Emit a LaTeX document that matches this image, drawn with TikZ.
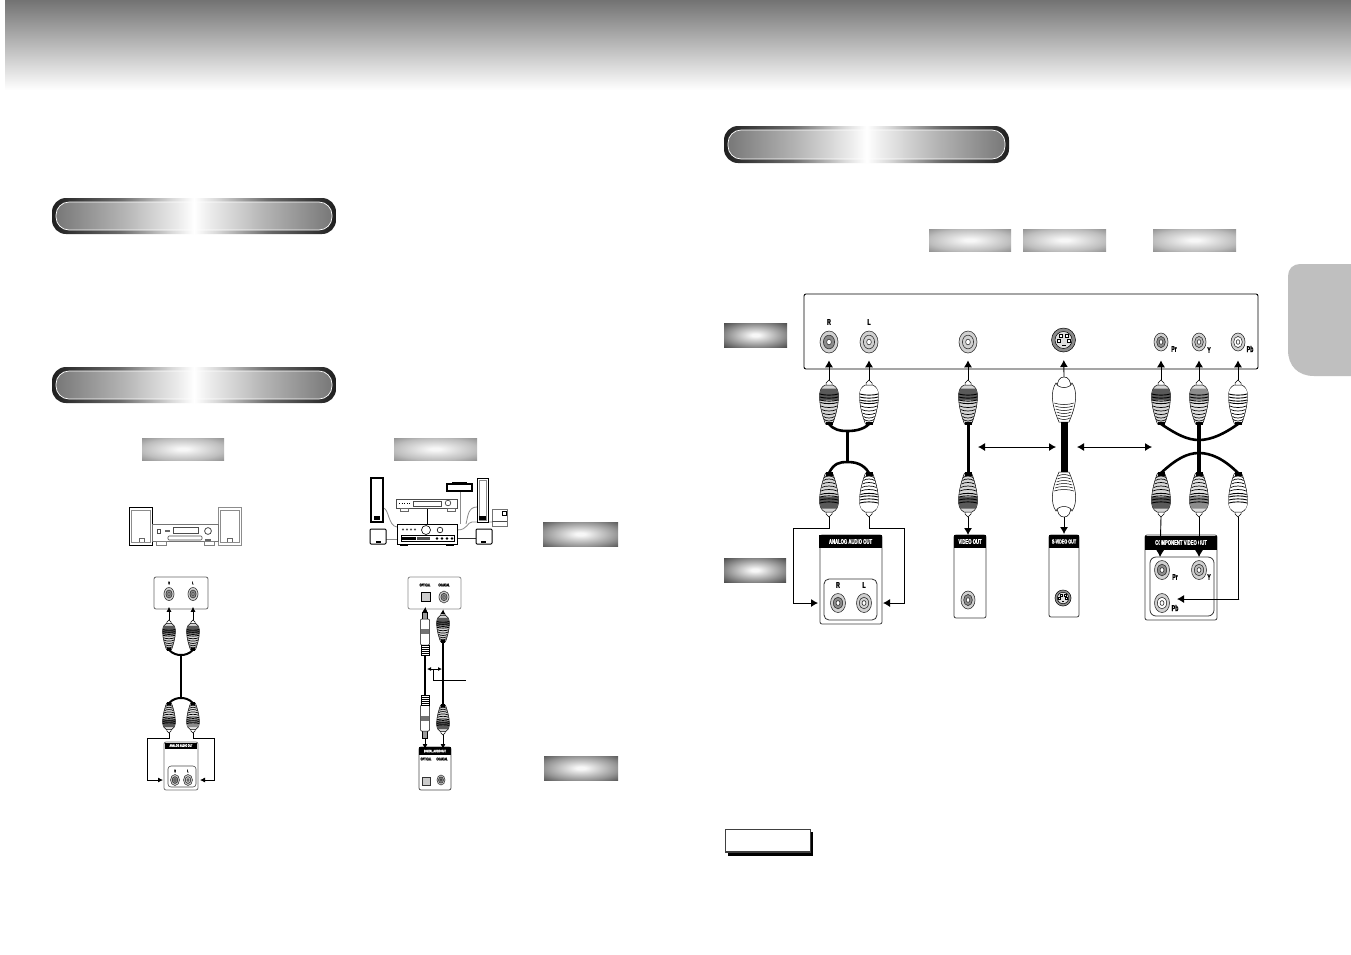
\documentclass[tikz,border=0pt]{standalone}
\usepackage{fontspec}
\usepackage{tikz}
\usetikzlibrary{arrows.meta,shapes.geometric}
\newfontfamily\panelfont[FakeStretch=0.62,BoldFeatures={FakeStretch=0.62,FakeBold=1.2}]{Liberation Sans}
\definecolor{tabgray}{gray}{0.75}
\definecolor{pilldark}{gray}{0.12}
\definecolor{pillmid}{gray}{0.42}
\definecolor{pillpale}{gray}{0.85}
\definecolor{pillin}{gray}{0.47}
\definecolor{pillinmid}{gray}{0.70}
\definecolor{pillinpale}{gray}{0.92}
\definecolor{plugdark}{gray}{0.35}
\definecolor{plugmid}{gray}{0.55}
\definecolor{jackdark}{gray}{0.55}
\definecolor{jackpale}{gray}{0.82}
\definecolor{palecentre}{gray}{0.97}
\definecolor{paleedge}{gray}{0.74}
\definecolor{palecorner}{gray}{0.58}
\definecolor{midedge}{gray}{0.58}
\definecolor{midcorner}{gray}{0.36}
\definecolor{darkedge}{gray}{0.52}
\definecolor{darkcorner}{gray}{0.30}
\pgfdeclarehorizontalshading{pillouter}{100bp}{color(0bp)=(pilldark); color(25bp)=(pilldark); color(37bp)=(pillmid); color(46bp)=(pillpale); color(50bp)=(white); color(54bp)=(pillpale); color(63bp)=(pillmid); color(75bp)=(pilldark); color(100bp)=(pilldark)}
\pgfdeclarehorizontalshading{pillinner}{100bp}{color(0bp)=(pillin); color(25bp)=(pillin); color(37bp)=(pillinmid); color(47bp)=(pillinpale); color(50bp)=(white); color(53bp)=(pillinpale); color(63bp)=(pillinmid); color(75bp)=(pillin); color(100bp)=(pillin)}
\pgfdeclareradialshading{glowpale}{\pgfpoint{0bp}{0bp}}{color(0bp)=(palecentre); color(3bp)=(palecentre); color(25bp)=(paleedge); color(35.4bp)=(palecorner); color(50bp)=(palecorner)}
\pgfdeclareradialshading{glowmid}{\pgfpoint{0bp}{0bp}}{color(0bp)=(palecentre); color(3bp)=(palecentre); color(25bp)=(midedge); color(35.4bp)=(midcorner); color(50bp)=(midcorner)}
\pgfdeclareradialshading{glowdark}{\pgfpoint{0bp}{0bp}}{color(0bp)=(palecentre); color(3bp)=(palecentre); color(25bp)=(darkedge); color(35.4bp)=(darkcorner); color(50bp)=(darkcorner)}
\tikzset{
  arrowline/.style={line width=0.9pt,-{Latex[length=7pt,width=8pt]}},
  smallarrow/.style={line width=0.8pt,-{Latex[length=5pt,width=5pt]}},
  cable/.style={line width=2.6pt},
  rimline/.style={line width=0.5pt},
  paneledge/.style={draw=black!75,line width=0.8pt,fill=white,rounded corners=2pt},
  headbar/.style={fill=black,text=white,inner sep=0pt,font=\panelfont\bfseries\fontsize{6.8}{7}\selectfont},
  tag/.style={inner sep=0pt,font=\panelfont\bfseries\fontsize{8.5}{9}\selectfont},
  tinytag/.style={inner sep=0pt,font=\panelfont\bfseries\fontsize{4}{5}\selectfont},
  jackbody/.style={ellipse,draw=black!80,line width=0.6pt,inner sep=0pt,fill=jackpale},
  rcaplug/.pic={
    \coordinate (-tip) at (0,0);
    \coordinate (-tail) at (0,44);
    \draw[rimline,fill=white] (-3,9) -- (-3,3) -- (0,0) -- (3,3) -- (3,9) -- cycle;
    \draw[rimline,fill=#1!25!white] (-4,5) .. controls (-8,7) and (-9.5,11) .. (-9.5,16) .. controls (-9.5,26) and (-6,38) .. (-3.5,44) -- (3.5,44) .. controls (6,38) and (9.5,26) .. (9.5,16) .. controls (9.5,11) and (8,7) .. (4,5) -- cycle;
    \fill[#1] (-8,8.5) -- (8,8.5) -- (9.3,14) -- (9.3,20) -- (-9.3,20) -- (-9.3,14) -- cycle;
    \foreach \ry/\rw in {14/9.2,17/9.2,20/9,22.5/8.6}
      \draw[line width=0.9pt] (-\rw,\ry) .. controls (-\rw/2,\ry+1.5) and (\rw/2,\ry+1.5) .. (\rw,\ry);
    \foreach \ry/\rw in {26/8.2,29.5/7.4,33/6.5,36.5/5.6,39.5/4.8}
      \draw[line width=0.7pt] (-\rw,\ry) .. controls (-\rw/2,\ry+2) and (\rw/2,\ry+2) .. (\rw,\ry);
    \fill[black] (-3.5,41.5) rectangle (3.5,45);
  },
  svplug/.pic={
    \coordinate (-tip) at (0,0);
    \coordinate (-tail) at (0,45);
    \draw[rimline,fill=white] (-7,12) .. controls (-7,3) and (-4,0) .. (0,0) .. controls (4,0) and (7,3) .. (7,12) -- cycle;
    \draw[rimline,fill=white] (-8,6) .. controls (-11,10) and (-12,16) .. (-11.5,22) .. controls (-11,30) and (-8,38) .. (-5,45) -- (5,45) .. controls (8,38) and (11,30) .. (11.5,22) .. controls (12,16) and (11,10) .. (8,6) .. controls (6,12) and (-6,12) .. (-8,6) -- cycle;
    \foreach \ry/\rw in {26/9.8,29/9,32/8.2,35/7.4,38/6.6,41/5.8}
      \draw[rimline] (-\rw,\ry) .. controls (-\rw/2,\ry+2) and (\rw/2,\ry+2) .. (\rw,\ry);
  },
  optoplug/.pic={
    \coordinate (-tip) at (0,0);
    \coordinate (-tail) at (0,43);
    \draw[rimline,fill=black!40] (-2.5,8) rectangle (2.5,0);
    \draw[rimline,fill=white,rounded corners=1pt] (-4.5,7) rectangle (4.5,33);
    \fill[black!55] (-4.3,17) rectangle (4.3,22);
    \draw[rimline,fill=white] (-4,33) rectangle (4,43);
    \foreach \ry in {35,37,39,41}
      \draw[line width=0.9pt] (-3.5,\ry) -- (3.5,\ry);
  },
  svjack/.pic={
    \coordinate (-c) at (0,0);
    \draw[rimline,fill=black!45] (0,0) circle (12);
    \draw[rimline,fill=black!12] (0,0) circle (8.5);
    \foreach \px/\py in {-3/-4,3/-4,-5/1,5/1}
      \draw[line width=0.8pt,fill=white] (\px-1.5,\py-1.3) rectangle (\px+1.5,\py+1.3);
    \fill[black] (-2,4.5) rectangle (2,6);
  }
}
\newcommand{\jackat}[5]{%
  \node[jackbody,minimum width=#3pt,minimum height=#4pt] (#1) at (#2) {};
  \node[jackbody,minimum width=0.62*#3pt,minimum height=0.62*#4pt,fill=#5] (#1in) at (#1) {};
  \node[jackbody,minimum width=0.26*#3pt,minimum height=0.26*#4pt,fill=white] (#1hole) at (#1) {};
}
\newcommand{\pillbar}[4]{%
  \path[shading=pillouter,rounded corners=14pt] (#1,#2) rectangle (#3,#4);
  \path[shading=pillinner,rounded corners=13pt] (#1+4,#2+4) rectangle (#3-4,#4-4);
  \draw[white,line width=0.7pt,rounded corners=13pt] (#1+4,#2+4) rectangle (#3-4,#4-4);
}
\newcommand{\glowbox}[5]{\path[shading=#5] (#1,#2) rectangle (#3,#4);}
\begin{document}
\begin{tikzpicture}[x=1pt,y=-1pt]
  \useasboundingbox (0,0) rectangle (1351,954);
  \fill[white] (0,0) rectangle (1351,954);
  % page band and side tab
  \path[top color=black!55,bottom color=white] (5,0) rectangle (1351,90);
  \fill[tabgray] (1351,264) -- (1300,264) .. controls (1293,264) and (1288,269) .. (1288,276) -- (1288,350) .. controls (1288,366) and (1298,376) .. (1314,376) -- (1351,376) -- cycle;
  % headings
  \pillbar{52}{198}{336}{234}
  \pillbar{52}{367}{336}{403}
  \pillbar{724}{126}{1009}{163}
  % grey labels
  \glowbox{929}{229}{1011}{251}{glowpale}
  \glowbox{1023}{229}{1106}{251}{glowpale}
  \glowbox{1153}{229}{1236}{251}{glowpale}
  \glowbox{142}{438}{224}{460}{glowpale}
  \glowbox{394}{438}{477}{460}{glowpale}
  \glowbox{543}{522}{618}{546}{glowmid}
  \glowbox{544}{756}{618}{780}{glowmid}
  \glowbox{724}{323}{787}{347}{glowdark}
  \glowbox{724}{558}{786}{582}{glowdark}
  % note box
  \fill[black] (728,832) rectangle (813,856);
  \draw[black!75,line width=1.2pt,fill=white] (725.5,829.5) rectangle (810.5,852);

  % stereo set
  \draw[line width=1pt,fill=white] (129,507) rectangle (152,545);
  \draw[black!45,line width=0.8pt,fill=white] (131,510) rectangle (150,542);
  \draw[black!60,line width=0.6pt] (139,542) -- (139,538) -- (144,538) -- (144,542);
  \draw[black!45,line width=1pt,fill=white] (218,507) rectangle (241,545);
  \draw[black!45,line width=0.6pt] (220,510) rectangle (239,542);
  \draw[black!60,line width=0.6pt] (227,542) -- (227,538) -- (232,538) -- (232,542);
  \draw[black!55,line width=0.7pt,fill=white] (152,524) rectangle (218,541);
  \draw[black!70,line width=0.6pt] (173,527) rectangle (198,533);
  \draw[black!80,line width=0.7pt] (208,531) circle (3.4);
  \draw[black!70,line width=0.6pt,rounded corners=1pt] (168,536) rectangle (202,540);
  \draw[black!70,line width=0.5pt] (157,529) rectangle (160,533);
  \fill[black!60] (165,530) rectangle (170,532);
  \fill[black!60] (205,539) rectangle (211,540.5);
  \draw[black!50,line width=0.5pt] (156,541) rectangle (166,545);
  \draw[black!50,line width=0.5pt] (204,541) rectangle (214,545);

  % stereo connection
  \draw[paneledge,draw=black!60] (154,577) rectangle (208,609);
  \node[tinytag] (tagSmallR) at (169,583) {R};
  \node[tinytag] (tagSmallL) at (193,583) {L};
  \jackat{jackSmallR}{169,594}{10}{13}{jackdark}
  \jackat{jackSmallL}{193,594}{10}{13}{jackdark}
  \pic[scale=0.68] (plugUpSmallR) at (169,620) {rcaplug=plugdark};
  \pic[scale=0.68] (plugUpSmallL) at (193,620) {rcaplug=plugdark};
  \pic[scale=0.68,yscale=-1] (plugDownSmallR) at (169,733) {rcaplug=plugdark};
  \pic[scale=0.68,yscale=-1] (plugDownSmallL) at (193,733) {rcaplug=plugmid};
  \coordinate (jointUpSmall) at (181,655);
  \coordinate (jointDownSmall) at (181,698);
  \draw[line width=2pt] (plugUpSmallR-tail) .. controls (173,654) and (177,655) .. (jointUpSmall) .. controls (185,655) and (189,654) .. (plugUpSmallL-tail);
  \draw[line width=2pt] (plugDownSmallR-tail) .. controls (173,699) and (177,698) .. (jointDownSmall) .. controls (185,698) and (189,699) .. (plugDownSmallL-tail);
  \draw[line width=2pt] (jointUpSmall) -- (jointDownSmall);
  \draw[smallarrow,shorten >=6pt] (plugUpSmallR-tip) -- (jackSmallR);
  \draw[smallarrow,shorten >=6pt] (plugUpSmallL-tip) -- (jackSmallL);
  \draw[paneledge,draw=black!55] (164,742) rectangle (198,790);
  \node[headbar,minimum width=32pt,minimum height=6pt,font=\panelfont\bfseries\fontsize{3.6}{4}\selectfont] (headSmallAudio) at (181,745.5) {ANALOG AUDIO OUT};
  \draw[black!70,line width=0.6pt,rounded corners=3pt] (168,766) rectangle (196,787);
  \node[tinytag] (tagSmallOutR) at (175,771) {R};
  \node[tinytag] (tagSmallOutL) at (188,771) {L};
  \jackat{jackSmallOutR}{175,780}{9}{11}{jackdark}
  \jackat{jackSmallOutL}{188,780}{9}{11}{jackpale}
  \coordinate (bendSmallR) at (147,738);
  \coordinate (bendSmallL) at (214,738);
  \coordinate (inSmallR) at (163,780);
  \coordinate (inSmallL) at (200,780);
  \draw[smallarrow] (plugDownSmallR-tip) |- (bendSmallR) |- (inSmallR);
  \draw[smallarrow] (plugDownSmallL-tip) |- (bendSmallL) |- (inSmallL);

  % home theatre set
  \draw[black!45,line width=0.8pt] (383,508) .. controls (389,508) and (388,526) .. (397,527);
  \draw[black!45,line width=0.8pt] (477,507) .. controls (468,507) and (468,516) .. (466,524);
  \draw[black!45,line width=0.8pt] (460,491) -- (460,524);
  \draw[black!45,line width=0.8pt] (492,522) -- (472,522) .. controls (467,522) and (468,530) .. (457,530);
  \draw[black!45,line width=0.8pt] (386,539) -- (397,539);
  \draw[black!80,line width=0.7pt] (457,538) -- (476,538);
  \draw[line width=0.8pt] (427,508) -- (427,524);
  \draw[line width=1.3pt,fill=white] (371,478) rectangle (383,522);
  \fill[black] (374,516) rectangle (380,520);
  \draw[line width=1pt,fill=white] (477,478) rectangle (488,522);
  \draw[black!45,line width=0.5pt] (479,480) rectangle (486,520);
  \fill[black] (479,516) rectangle (486,520);
  \draw[line width=1.4pt,fill=white] (447,484) rectangle (472,491);
  \fill[black] (452,482) rectangle (467,484);
  \fill[black] (455,489.5) rectangle (460,491);
  \draw[black!70,line width=0.7pt,fill=white] (396,499) rectangle (457,508);
  \draw[black!70,line width=0.6pt] (413,501) rectangle (441,506);
  \draw[black!80,line width=0.6pt] (448,503) circle (2.8);
  \draw[line width=0.6pt,dotted] (399,503.5) -- (411,503.5);
  \draw[black!60,line width=0.5pt] (400,508) rectangle (408,511);
  \draw[black!60,line width=0.5pt] (447,508) rectangle (455,511);
  \draw[line width=0.9pt,fill=white] (397,524) rectangle (457,544);
  \draw[line width=0.6pt] (426,530) circle (4.5);
  \draw[line width=0.6pt] (440,530) circle (2.8);
  \draw[line width=0.6pt] (401,535) rectangle (454,541.5);
  \fill[black] (402,537) rectangle (416,540);
  \fill[black!70] (417,536.5) rectangle (430,540);
  \foreach \dotx in {437,442,447,452}
    \fill[black] (\dotx,538.5) circle (1.3);
  \foreach \dotx in {403,407,411,415}
    \fill[black!70] (\dotx,529.5) circle (1.2);
  \fill[black] (400,544) rectangle (408,546);
  \fill[black] (446,544) rectangle (454,546);
  \draw[line width=1pt,fill=white,rounded corners=1pt] (370,529) rectangle (386,544);
  \fill[black] (376,541) rectangle (381,543);
  \draw[line width=1pt,fill=white,rounded corners=1pt] (476,529) rectangle (492,544);
  \fill[black] (481,541) rectangle (486,543);
  \draw[black!55,line width=0.7pt,fill=white] (492,509) rectangle (507,526);
  \draw[black!70,line width=0.5pt] (492,521) -- (507,521);
  \draw[line width=0.6pt] (502,511) rectangle (506,515);

  % digital connection
  \draw[paneledge,draw=black!45] (408,577) rectangle (461,609);
  \node[tinytag] (tagOptical) at (425,585) {OPTICAL};
  \node[tinytag] (tagCoaxial) at (444,585) {COAXIAL};
  \node[draw=black,line width=0.8pt,fill=black!20,minimum size=9pt,inner sep=0pt] (jackOptical) at (426,597) {};
  \jackat{jackCoaxial}{444,597}{10}{12}{jackdark}
  \pic (plugUpOptical) at (425,612) {optoplug};
  \pic[scale=0.68] (plugUpCoaxial) at (443,612) {rcaplug=plugdark};
  \pic[yscale=-1] (plugDownOptical) at (425,738) {optoplug};
  \pic[scale=0.68,yscale=-1] (plugDownCoaxial) at (443,735) {rcaplug=plugdark};
  \draw[line width=2pt] (plugUpOptical-tail) -- (plugDownOptical-tail);
  \draw[line width=2pt] (plugUpCoaxial-tail) -- (plugDownCoaxial-tail);
  \draw[smallarrow,shorten >=5pt] (plugUpOptical-tip) -- (jackOptical);
  \draw[smallarrow,shorten >=6pt] (plugUpCoaxial-tip) -- (jackCoaxial);
  \draw[paneledge,draw=black!70] (419,747) rectangle (451,790);
  \node[headbar,minimum width=32pt,minimum height=8pt,font=\panelfont\bfseries\fontsize{3.6}{4}\selectfont] (headDigital) at (435,751) {DIGITAL AUDIO OUT};
  \node[tinytag] (tagOutOptical) at (426,759) {OPTICAL};
  \node[tinytag] (tagOutCoaxial) at (442,759) {COAXIAL};
  \node[draw=black!80,line width=0.7pt,fill=black!20,minimum size=8pt,inner sep=0pt] (jackOutOptical) at (426,781) {};
  \jackat{jackOutCoaxial}{441,780}{8}{10}{jackdark}
  \coordinate (inOptical) at (425,749);
  \coordinate (inCoaxial) at (443,749);
  \draw[smallarrow] (plugDownOptical-tip) -- (inOptical);
  \draw[smallarrow] (plugDownCoaxial-tip) -- (inCoaxial);
  \coordinate (cableOpticalSide) at (427,669);
  \coordinate (cableCoaxialSide) at (442,669);
  \coordinate (tickTop) at (433,669);
  \coordinate (tickEnd) at (466,680);
  \draw[smallarrow,{Latex[length=4pt,width=4pt]}-{Latex[length=4pt,width=4pt]}] (cableOpticalSide) -- (cableCoaxialSide);
  \draw[line width=0.8pt] (tickTop) |- (tickEnd);

  % back panel
  \draw[line width=0.9pt,rounded corners=2pt] (804,294) rectangle (1258,369);
  \draw[white,line width=0.9pt] (806,294) -- (1256,294);
  \draw[black!35,line width=0.9pt] (806,294) -- (1256,294);
  \node[tag] (tagR) at (829,322) {R};
  \node[tag] (tagL) at (869,322) {L};
  \jackat{jackR}{829,342}{18}{22}{jackdark}
  \jackat{jackL}{869,342}{18}{22}{jackpale}
  \jackat{jackVideo}{968,342}{18}{22}{jackpale}
  \pic (jackS) at (1063.5,340) {svjack};
  \jackat{jackPr}{1161,342}{14}{18}{jackdark}
  \jackat{jackY}{1199,342}{14}{18}{jackdark!60}
  \jackat{jackPb}{1238,342}{14}{18}{white}
  \node[tag] (tagPr) at (1174,349) {Pr};
  \node[tag] (tagY) at (1209,350) {Y};
  \node[tag] (tagPb) at (1250,349) {Pb};

  % upper plugs
  \pic (plugUpR) at (829,380) {rcaplug=plugdark};
  \pic (plugUpL) at (869,380) {rcaplug=white};
  \pic (plugUpVideo) at (968,380) {rcaplug=plugdark};
  \pic (plugUpS) at (1064,377) {svplug};
  \pic (plugUpPr) at (1161,380) {rcaplug=plugdark};
  \pic (plugUpY) at (1199,380) {rcaplug=plugmid};
  \pic (plugUpPb) at (1238,380) {rcaplug=white};
  % lower plugs
  \pic[yscale=-1] (plugDownR) at (829,517) {rcaplug=plugdark};
  \pic[yscale=-1] (plugDownL) at (869,517) {rcaplug=white};
  \pic[yscale=-1] (plugDownVideo) at (968,517) {rcaplug=plugdark};
  \pic[yscale=-1] (plugDownS) at (1064,517) {svplug};
  \pic[yscale=-1] (plugDownPr) at (1161,517) {rcaplug=plugdark};
  \pic[yscale=-1] (plugDownY) at (1199,517) {rcaplug=plugmid};
  \pic[yscale=-1] (plugDownPb) at (1238,517) {rcaplug=white};

  % cables
  \coordinate (jointUp) at (847,431);
  \coordinate (jointDown) at (847,462);
  \draw[cable] (plugUpR-tail) .. controls (834,430) and (840,431) .. (jointUp) .. controls (854,431) and (863,430) .. (plugUpL-tail);
  \draw[cable] (plugDownR-tail) .. controls (834,463) and (840,462) .. (jointDown) .. controls (854,462) and (863,463) .. (plugDownL-tail);
  \draw[line width=3pt] (jointUp) -- (jointDown);
  \draw[line width=3pt] (plugUpVideo-tail) -- (plugDownVideo-tail);
  \draw[line width=7pt] (plugUpS-tail) -- (plugDownS-tail);
  \coordinate (crossUp) at (1199,440);
  \coordinate (crossDown) at (1199,453);
  \draw[cable] (plugUpPr-tail) .. controls (1176,434) and (1187,440) .. (crossUp) .. controls (1211,440) and (1224,434) .. (plugUpPb-tail);
  \draw[cable] (plugDownPr-tail) .. controls (1176,459) and (1187,453) .. (crossDown) .. controls (1211,453) and (1224,459) .. (plugDownPb-tail);
  \draw[line width=4.5pt] (plugUpY-tail) -- (plugDownY-tail);

  % arrows to the back panel
  \draw[arrowline,shorten >=7pt] (plugUpR-tip) -- (jackR);
  \draw[arrowline,shorten >=7pt] (plugUpL-tip) -- (jackL);
  \draw[arrowline,shorten >=7pt] (plugUpVideo-tip) -- (jackVideo);
  \draw[arrowline,shorten >=20pt] (plugUpS-tip) -- (jackS-c);
  \draw[arrowline,shorten >=9pt] (plugUpPr-tip) -- (jackPr);
  \draw[arrowline,shorten >=9pt] (plugUpY-tip) -- (jackY);
  \draw[arrowline,shorten >=9pt] (plugUpPb-tip) -- (jackPb);
  % arrows between the cables
  \coordinate (linkVideo) at (978,447);
  \coordinate (linkSleft) at (1056,447);
  \coordinate (linkSright) at (1077,447);
  \coordinate (linkComp) at (1152,447);
  \draw[arrowline,{Latex[length=7pt,width=8pt]}-{Latex[length=7pt,width=8pt]}] (linkVideo) -- (linkSleft);
  \draw[arrowline,{Latex[length=7pt,width=8pt]}-{Latex[length=7pt,width=8pt]}] (linkSright) -- (linkComp);

  % analog out
  \draw[paneledge] (820,535) rectangle (882,624);
  \node[headbar,minimum width=63pt,minimum height=13pt] (headAudio) at (850.5,541.5) {ANALOG AUDIO OUT};
  \draw[black!80,line width=0.8pt,rounded corners=5pt] (824,579) rectangle (877,620);
  \node[tag] (tagOutR) at (838,585) {R};
  \node[tag] (tagOutL) at (864,585) {L};
  \jackat{jackOutR}{838,603}{15}{19}{jackdark}
  \jackat{jackOutL}{864,603}{15}{19}{jackpale}
  \coordinate (bendR) at (793,528);
  \coordinate (bendL) at (904,528);
  \coordinate (inR) at (818,603);
  \coordinate (inL) at (883,603);
  \draw[arrowline] (plugDownR-tip) |- (bendR) |- (inR);
  \draw[arrowline] (plugDownL-tip) |- (bendL) |- (inL);

  % video out
  \draw[paneledge] (954,535) rectangle (986,618);
  \node[headbar,minimum width=32pt,minimum height=13pt] (headVideo) at (970,541.5) {VIDEO OUT};
  \jackat{jackOutVideo}{968,600}{14}{18}{jackdark}
  \coordinate (inVideo) at (968,535);
  \draw[arrowline] (plugDownVideo-tip) -- (inVideo);

  % s-video out
  \draw[paneledge] (1049,535) rectangle (1079,617);
  \node[headbar,minimum width=30pt,minimum height=13pt,font=\panelfont\bfseries\fontsize{6}{7}\selectfont] (headS) at (1064,541.5) {S-VIDEO OUT};
  \pic[scale=0.67] (jackOutS) at (1063,598) {svjack};
  \coordinate (inS) at (1064,534);
  \draw[arrowline] (plugDownS-tip) -- (inS);

  % component out
  \draw[paneledge] (1145,535) rectangle (1217,620);
  \node[headbar,minimum width=72pt,minimum height=14pt] (headComp) at (1181,542.5) {COMPONENT VIDEO OUT};
  \draw[black!80,line width=0.8pt,rounded corners=6pt] (1150,557) rectangle (1214,616);
  \jackat{jackOutPr}{1162,570}{15}{19}{jackdark}
  \jackat{jackOutY}{1199,570}{15}{19}{jackdark!60}
  \jackat{jackOutPb}{1162,603}{15}{19}{white}
  \node[tag] (tagOutPr) at (1175,577) {Pr};
  \node[tag] (tagOutY) at (1209,577) {Y};
  \node[tag] (tagOutPb) at (1175,608) {Pb};
  \coordinate (inPr) at (1160,557);
  \coordinate (inY) at (1199,557);
  \coordinate (bendPb) at (1239,599);
  \coordinate (inPb) at (1177,599);
  \draw[arrowline] (plugDownPr-tip) -- (inPr);
  \draw[arrowline] (plugDownY-tip) -- (inY);
  \draw[arrowline] (plugDownPb-tip) |- (bendPb) -- (inPb);
\end{tikzpicture}
\end{document}
